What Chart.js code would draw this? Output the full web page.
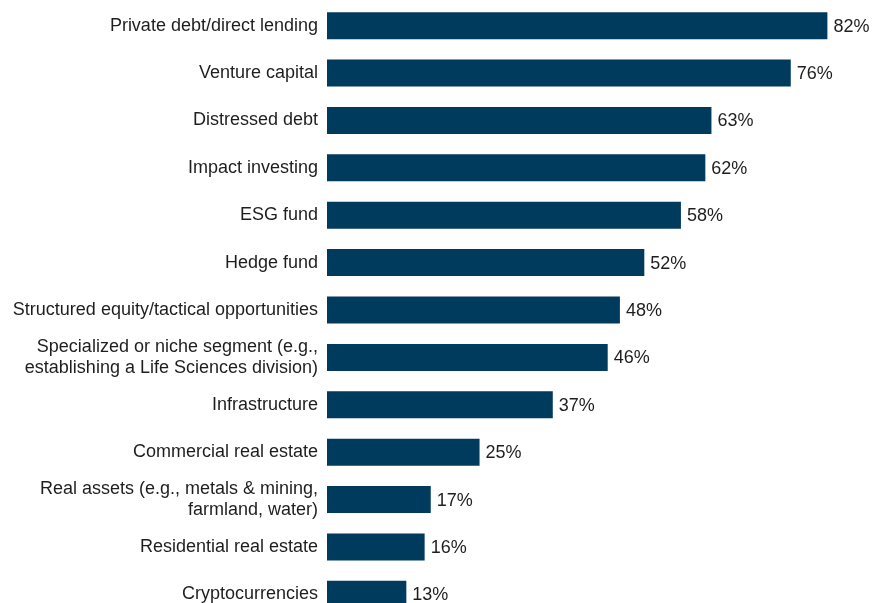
<!DOCTYPE html>
<html>
<head>
<meta charset="utf-8">
<script src="https://cdn.jsdelivr.net/npm/chart.js@4.4.1/dist/chart.umd.min.js"></script>
<style>
  html, body { margin: 0; padding: 0; background: #fff; overflow: hidden; }
  canvas { display: block; }
</style>
</head>
<body>
<canvas id="myChart" width="873" height="620"></canvas>
<script>
const categories = [
    "Private debt/direct lending",
    "Venture capital",
    "Distressed debt",
    "Impact investing",
    "ESG fund",
    "Hedge fund",
    "Structured equity/tactical opportunities",
    ["Specialized or niche segment (e.g.,", "establishing a Life Sciences division)"],
    "Infrastructure",
    "Commercial real estate",
    ["Real assets (e.g., metals & mining,", "farmland, water)"],
    "Residential real estate",
    "Cryptocurrencies"
];
const values = [82, 76, 63, 62, 58, 52, 48, 46, 37, 25, 17, 16, 13];

const barColor = "#003a5d";
const textColor = "#1e1e1e";
const fontFamily = "'Liberation Sans', Arial, sans-serif";

// value labels at the end of each bar
const valueLabels = {
    id: "valueLabels",
    afterDatasetsDraw(chart) {
        const ctx = chart.ctx;
        const meta = chart.getDatasetMeta(0);
        ctx.save();
        ctx.font = "18px " + fontFamily;
        ctx.fillStyle = textColor;
        ctx.textAlign = "left";
        ctx.textBaseline = "middle";
        meta.data.forEach((bar, i) => {
            ctx.fillText(values[i] + "%", bar.x + 6, bar.y + 1);
        });
        ctx.restore();
    }
};

const ctx = document.getElementById("myChart");
new Chart(ctx, {
    type: "bar",
    data: {
        labels: categories,
        datasets: [{
            data: values,
            backgroundColor: barColor,
            borderWidth: 0,
            barPercentage: 0.57,
            categoryPercentage: 1
        }]
    },
    options: {
        indexAxis: "y",
        responsive: false,
        animation: false,
        layout: { padding: { top: 2, bottom: 2, left: 0, right: 9 } },
        plugins: {
            legend: { display: false },
            tooltip: { enabled: false }
        },
        scales: {
            x: {
                min: 0,
                max: 88,
                display: false
            },
            y: {
                grid: { display: false, drawTicks: false },
                border: { display: false },
                afterFit(scale) {
                    scale.width = 327;
                    scale.paddingTop = 0;
                    scale.paddingBottom = 0;
                },
                ticks: {
                    padding: 9,
                    color: textColor,
                    font: { family: fontFamily, size: 18, lineHeight: 1.2 }
                }
            }
        }
    },
    plugins: [valueLabels]
});
</script>
</body>
</html>
